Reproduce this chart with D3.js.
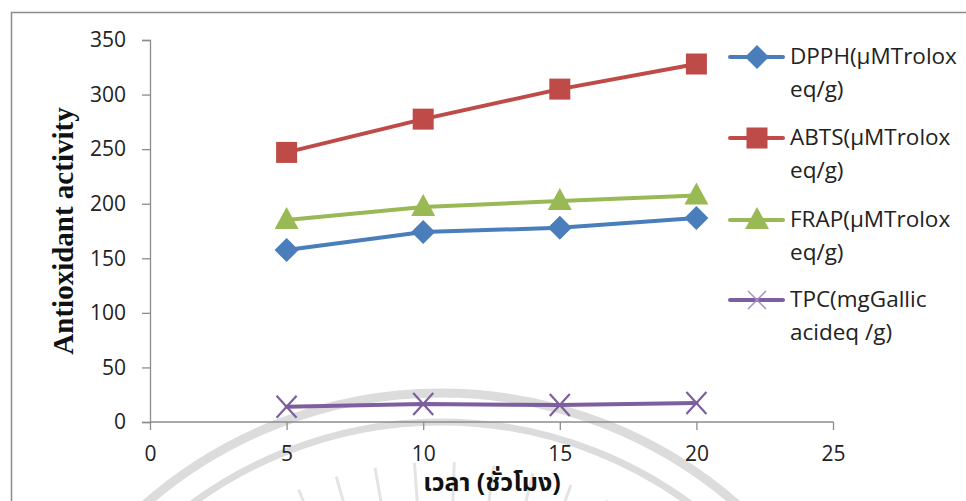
<!DOCTYPE html>
<html><head><meta charset="utf-8">
<script src="https://cdn.jsdelivr.net/npm/d3@7"></script>
<style>body{margin:0;background:#fff}svg{display:block}</style>
</head><body>
<svg id="c" width="966" height="501"></svg>
<script>
const hours = [5, 10, 15, 20];
const dpph = [157.5, 174, 178, 187];
const abts = [247, 277.5, 305, 328];
const frap = [185, 197, 202.5, 207.5];
const tpc = [14, 16.5, 15.5, 17.5];
const xTicks = [0, 5, 10, 15, 20, 25];
const yTicks = [0, 50, 100, 150, 200, 250, 300, 350];
const seriesNames = [["DPPH(µMTrolox","eq/g)"],["ABTS(µMTrolox","eq/g)"],["FRAP(µMTrolox","eq/g)"],["TPC(mgGallic","acideq /g)"]];
const colors = ["#4a7ebb","#be4b48","#98b954","#7d5fa0"];
const symbolsK = ["diamond","square","triangle","x"];
const xTitle = "เวลา (ชั่วโมง)";
const yTitle = "Antioxidant activity";

const svg = d3.select("#c");
const x = d3.scaleLinear().domain([0,25]).range([150,833]);
const y = d3.scaleLinear().domain([0,350]).range([422,40]);

// watermark
const wm = svg.append("g").attr("fill","none").attr("stroke","#dcdcdc");
wm.append("circle").attr("cx",441).attr("cy",842).attr("r",449).attr("stroke-width",9);
wm.append("circle").attr("cx",441).attr("cy",842).attr("r",420).attr("stroke-width",7);
const rays = d3.range(-40, 41, 6);
rays.forEach(a=>{
  const r = a*Math.PI/180;
  wm.append("line").attr("x1",441+380*Math.sin(r)).attr("y1",842-380*Math.cos(r))
    .attr("x2",441+340*Math.sin(r)).attr("y2",842-340*Math.cos(r)).attr("stroke-width",3).attr("stroke","#e4e4e4");
});

// border
svg.append("rect").attr("x",11.5).attr("y",12.5).attr("width",1000).attr("height",600)
  .attr("fill","none").attr("stroke","#8c8c8c").attr("stroke-width",1.5);

const font = "'Open Sans', Lato, sans-serif";
// axes
const yAxis = svg.append("g").attr("transform","translate(150,0)")
  .call(d3.axisLeft(y).tickValues(yTicks).tickSize(8).tickPadding(16));
const xAxis = svg.append("g").attr("transform","translate(0,422)")
  .call(d3.axisBottom(x).tickValues(xTicks).tickSize(8).tickPadding(12));
[yAxis,xAxis].forEach(a=>{
  a.selectAll("path,line").attr("stroke","#8c8c8c").attr("stroke-width",1.3);
  a.selectAll("text").attr("font-family",font).attr("font-size",21).attr("fill","#222");
});
xAxis.selectAll("path").attr("d","M150.5,0H833.5");
xAxis.selectAll("text").attr("dy","0.9em");

svg.append("text").attr("transform","translate(73,231) rotate(-90)").attr("text-anchor","middle")
  .attr("font-family","'Liberation Serif', serif").attr("font-weight","bold").attr("font-size",29)
  .attr("fill","#111").text(yTitle);
svg.append("text").attr("x",492).attr("y",491).attr("text-anchor","middle")
  .attr("font-family","'Noto Sans Thai','Noto Sans',Tahoma,sans-serif").attr("font-weight","bold").attr("font-size",25)
  .attr("fill","#111").text(xTitle);

const allSeries = [dpph, abts, frap, tpc];
const line = d3.line().x((d,i)=>x(hours[i])).y(d=>y(d));

function marker(g, kind, cx, cy, color){
  if(kind==="diamond"){
    g.append("path").attr("d",`M${cx},${cy-12}L${cx+12},${cy}L${cx},${cy+12}L${cx-12},${cy}Z`).attr("fill",color);
  } else if(kind==="square"){
    g.append("rect").attr("x",cx-10.5).attr("y",cy-10.5).attr("width",21).attr("height",21).attr("fill",color);
  } else if(kind==="triangle"){
    g.append("path").attr("d",`M${cx},${cy-13}L${cx+12},${cy+9}L${cx-12},${cy+9}Z`).attr("fill",color);
  } else {
    g.append("path").attr("d",`M${cx-10},${cy-11}L${cx+10},${cy+11}M${cx+10},${cy-11}L${cx-10},${cy+11}`)
      .attr("stroke",color).attr("stroke-width",2.2).attr("fill","none");
  }
}

allSeries.forEach((vals,k)=>{
  const g = svg.append("g");
  g.append("path").datum(vals).attr("d",line).attr("fill","none").attr("stroke",colors[k])
    .attr("stroke-width",4).attr("stroke-linejoin","round").attr("stroke-linecap","round");
  vals.forEach((v,i)=>marker(g, symbolsK[k], x(hours[i]), y(v), colors[k]));
});

// legend
const legY = [57, 138, 220, 300];
seriesNames.forEach((nm,k)=>{
  const g = svg.append("g");
  g.append("line").attr("x1",730).attr("x2",783).attr("y1",legY[k]).attr("y2",legY[k])
    .attr("stroke",colors[k]).attr("stroke-width",4).attr("stroke-linecap","round");
  if(symbolsK[k]==="x"){
    g.append("path").attr("d",`M${748},${legY[k]-9}L${766},${legY[k]+9}M${766},${legY[k]-9}L${748},${legY[k]+9}`)
      .attr("stroke","#a58fc4").attr("stroke-width",1.5);
  } else marker(g, symbolsK[k], 757, legY[k], colors[k]);
  const t = g.append("text").attr("font-family",font).attr("font-size",22.5).attr("fill","#222");
  t.append("tspan").attr("x",790).attr("y",legY[k]+7).text(nm[0]);
  t.append("tspan").attr("x",790).attr("y",legY[k]+40).text(nm[1]);
});
</script>
</body></html>
